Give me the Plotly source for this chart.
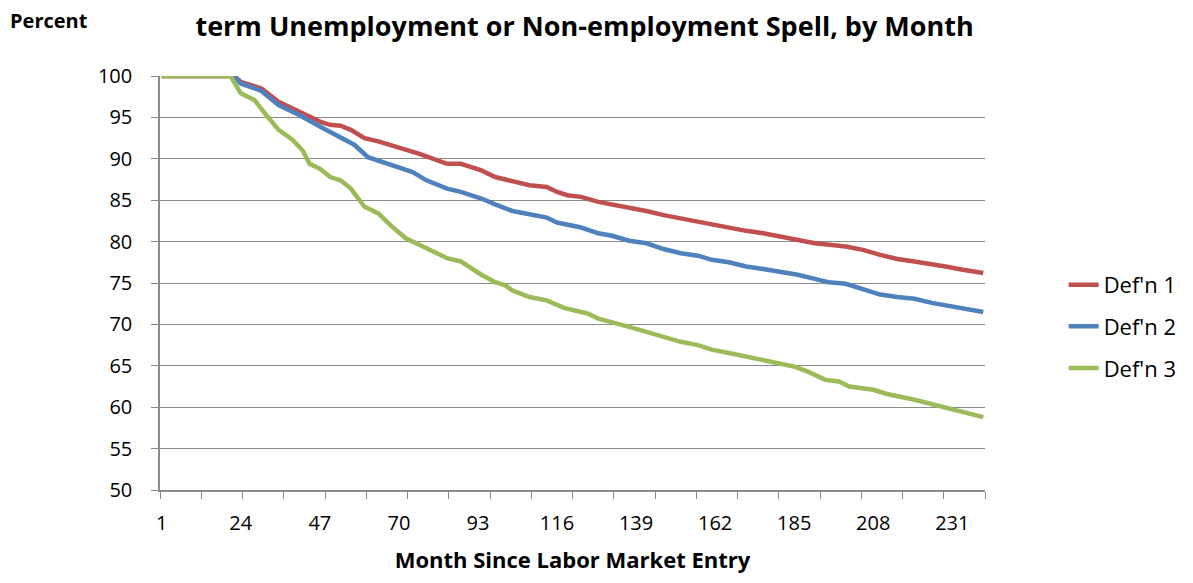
import plotly.graph_objects as go

# ---- data ----
red_months = [1, 22, 24, 30, 35, 41, 47, 50, 53, 56, 60, 64, 70, 76, 84, 88, 94, 98,
              103, 108, 113, 116, 119, 123, 128, 132, 137, 142, 147, 152, 157, 161,
              166, 171, 176, 181, 186, 191, 200, 205, 210, 215, 220, 225, 229, 234, 240]
red_values = [100, 100, 99.3, 98.5, 96.9, 95.7, 94.5, 94.1, 94.0, 93.5, 92.5, 92.1, 91.4,
              90.6, 89.4, 89.4, 88.6, 87.8, 87.3, 86.8, 86.6, 86.0, 85.6, 85.4, 84.8,
              84.5, 84.0, 83.7, 83.2, 82.8, 82.3, 82.0, 81.7, 81.3, 81.0, 80.6, 80.2,
              79.8, 79.4, 79.0, 78.4, 77.9, 77.6, 77.3, 77.0, 76.6, 76.2]

blue_months = [1, 22, 24, 30, 35, 41, 47, 53, 57, 61, 64, 70, 74, 78, 84, 88, 94, 98,
               103, 108, 113, 116, 119, 123, 128, 132, 137, 142, 147, 152, 157, 161,
               166, 171, 176, 181, 186, 191, 195, 200, 205, 210, 215, 220, 225, 229,
               234, 240]
blue_values = [100, 100, 99.1, 98.2, 96.5, 95.3, 93.9, 92.5, 91.7, 90.2, 89.8, 89.0, 88.4,
               87.4, 86.4, 86.0, 85.2, 84.5, 83.7, 83.3, 82.9, 82.3, 82.0, 81.7, 81.0,
               80.7, 80.1, 79.8, 79.1, 78.6, 78.3, 77.8, 77.5, 77.0, 76.7, 76.4, 76.0,
               75.5, 75.1, 74.9, 74.3, 73.6, 73.3, 73.1, 72.6, 72.3, 71.9, 71.5]

green_months = [1, 21, 24, 28, 31, 35, 39, 42, 44, 47, 50, 53, 56, 60, 64, 68, 72, 78, 84,
                88, 94, 98, 101, 103, 108, 113, 118, 123, 125, 128, 132, 137, 142, 147,
                152, 157, 161, 166, 171, 176, 179, 185, 189, 194, 198, 201, 208, 212,
                220, 225, 229, 235, 240]
green_values = [100, 100, 97.9, 97.1, 95.5, 93.5, 92.3, 91.0, 89.4, 88.8, 87.8, 87.4, 86.4,
                84.2, 83.4, 81.8, 80.4, 79.2, 78.0, 77.6, 76.0, 75.1, 74.7, 74.1, 73.3,
                72.9, 72.0, 71.5, 71.3, 70.7, 70.3, 69.7, 69.1, 68.5, 67.9, 67.5, 66.95,
                66.55, 66.1, 65.7, 65.4, 64.9, 64.3, 63.3, 63.1, 62.5, 62.1, 61.6, 60.9,
                60.4, 60.0, 59.4, 58.8]

series_names = ["Def'n 1", "Def'n 2", "Def'n 3"]
series_colors = ["#C0504D", "#4F81BD", "#9BBB59"]

x_tick_labels = [1, 24, 47, 70, 93, 116, 139, 162, 185, 208, 231]
y_tick_values = [50, 55, 60, 65, 70, 75, 80, 85, 90, 95, 100]

FONT = "Open Sans"
GRID = "#8a8a8a"

fig = go.Figure()
for i, (mx, vy) in enumerate([(red_months, red_values),
                              (blue_months, blue_values),
                              (green_months, green_values)]):
    fig.add_trace(go.Scatter(
        x=mx, y=vy, mode="lines", name=series_names[i],
        legendgroup=series_names[i],
        line=dict(color=series_colors[i], width=4.5),
    ))

fig.update_layout(
    width=1193, height=583,
    margin=dict(l=160, r=207, t=76, b=93),
    paper_bgcolor="white", plot_bgcolor="white",
    font=dict(family=FONT, color="black"),
    title=dict(
        text="<b>term Unemployment or Non-employment Spell, by Month</b>",
        x=0.49, xref="container", xanchor="center",
        y=0.955, yref="container", yanchor="middle",
        font=dict(size=27, family=FONT, color="black"),
    ),
    showlegend=True,
    legend=dict(
        x=1.094, xanchor="left", y=0.395, yanchor="middle",
        font=dict(size=22, family=FONT, color="black"),
        tracegroupgap=10, bgcolor="rgba(0,0,0,0)",
    ),
    xaxis=dict(
        range=[0.5, 240.5], tickmode="array", tickvals=x_tick_labels,
        ticktext=[str(v) for v in x_tick_labels],
        ticks="", showgrid=False, zeroline=False,
        showline=True, linecolor=GRID, linewidth=1.5,
        tickfont=dict(size=20, family=FONT, color="black"),
        ticklabelstandoff=14,
        minor=dict(tick0=0.5, dtick=12, ticks="outside", ticklen=7,
                   tickcolor=GRID, tickwidth=1.3, showgrid=False),
        title=dict(text="<b>Month Since Labor Market Entry</b>",
                   font=dict(size=22, family=FONT, color="black"), standoff=18),
    ),
    yaxis=dict(
        range=[50, 100], tickmode="array", tickvals=y_tick_values,
        ticks="outside", ticklen=7, tickcolor=GRID, tickwidth=1.3,
        showgrid=True, gridcolor=GRID, gridwidth=1.3, zeroline=False,
        showline=True, linecolor=GRID, linewidth=1.5,
        tickfont=dict(size=20, family=FONT, color="black"),
        ticklabelstandoff=15,
    ),
    annotations=[dict(
        text="<b>Percent</b>", xref="paper", yref="paper",
        x=-0.184, xanchor="left", y=1.135, yanchor="middle",
        showarrow=False, font=dict(size=20, family=FONT, color="black"),
    )],
)

fig.write_html("out.html")
